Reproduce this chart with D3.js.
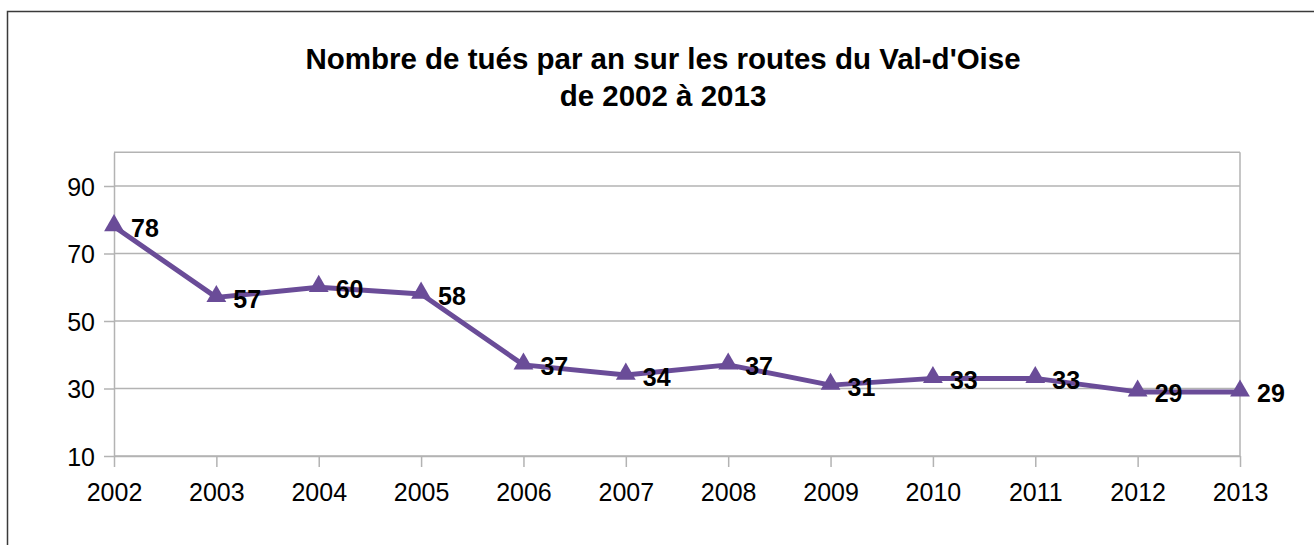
<!DOCTYPE html>
<html>
<head>
<meta charset="utf-8">
<script src="https://cdn.jsdelivr.net/npm/d3@7"></script>
<style>
  body { margin: 0; background: #fff; }
  svg { display: block; font-family: "Liberation Sans", Arial, sans-serif; }
  .grid line { stroke: #b3b3b3; stroke-width: 1.5; }
  .axis path, .axis line { stroke: #b3b3b3; stroke-width: 1.5; }
  .axis text { font-size: 25px; fill: #000; font-family: "Liberation Sans", Arial, sans-serif; }
  .title { font-size: 29.5px; font-weight: bold; }
  .label { font-size: 25px; font-weight: bold; }
</style>
</head>
<body>
<div class="container"></div>
<script>
var years = ['2002', '2003', '2004', '2005', '2006', '2007', '2008', '2009', '2010', '2011', '2012', '2013'];
var tues = [78, 57, 60, 58, 37, 34, 37, 31, 33, 33, 29, 29];
var yTicks = [10, 30, 50, 70, 90];
var titleLines = ["Nombre de tués par an sur les routes du Val-d'Oise", 'de 2002 à 2013'];

var WIDTH = 1314, HEIGHT = 545;
var plot = {left: 114, right: 1240, top: 152.25, bottom: 456};
var purple = '#6a4c98';

var translate = (x, y) => `translate(${ x },${ y })`;

var svg = d3.select('.container').append('svg')
    .attr('width', WIDTH)
    .attr('height', HEIGHT);

// outer frame
svg.append('rect')
    .attr('x', 7.5).attr('y', 11.5)
    .attr('width', WIDTH).attr('height', HEIGHT)
    .attr('fill', 'none')
    .attr('stroke', '#3a3a3a')
    .attr('stroke-width', 1.5);

var title = svg.append('text')
    .classed('title', true)
    .attr('text-anchor', 'middle');
titleLines.forEach((t, i) => {
    title.append('tspan')
        .attr('x', 663)
        .attr('y', 69 + i * 37)
        .text(t);
});

var xScale = d3.scalePoint()
    .domain(years)
    .range([plot.left, plot.right]);

var yScale = d3.scaleLinear()
    .domain([10, 100])
    .range([plot.bottom, plot.top]);

// grid
svg.append('g')
    .classed('grid', true)
    .selectAll('line')
    .data(yTicks.concat([100]))
    .enter().append('line')
    .attr('x1', plot.left).attr('x2', plot.right)
    .attr('y1', d => yScale(d)).attr('y2', d => yScale(d));

// right frame line of plot area
svg.append('line')
    .attr('x1', plot.right).attr('x2', plot.right)
    .attr('y1', plot.top).attr('y2', plot.bottom)
    .attr('stroke', '#b3b3b3').attr('stroke-width', 1.5);

var xAxis = d3.axisBottom(xScale).tickSize(11).tickPadding(16).tickSizeOuter(0);
var yAxis = d3.axisLeft(yScale).tickValues(yTicks).tickSize(10).tickPadding(9).tickSizeOuter(0);

svg.append('g')
    .classed('axis', true)
    .attr('transform', translate(0, plot.bottom))
    .call(xAxis);

svg.append('g')
    .classed('axis', true)
    .attr('transform', translate(plot.left, 0))
    .call(yAxis)
    .call(g => g.selectAll('text').attr('dy', '0.36em'));

var data = years.map((y, i) => ({year: y, value: tues[i]}));

var line = d3.line()
    .x(d => xScale(d.year))
    .y(d => yScale(d.value));

svg.append('path')
    .attr('d', line(data))
    .attr('fill', 'none')
    .attr('stroke', purple)
    .attr('stroke-width', 5)
    .attr('stroke-linejoin', 'round');

var tri = d3.symbol().type(d3.symbolTriangle).size(170);

svg.selectAll('.marker')
    .data(data)
    .enter().append('path')
    .classed('marker', true)
    .attr('d', tri)
    .attr('fill', purple)
    .attr('transform', d => translate(xScale(d.year), yScale(d.value) - 1));

svg.selectAll('.label')
    .data(data)
    .enter().append('text')
    .classed('label', true)
    .attr('x', d => xScale(d.year) + 17)
    .attr('y', d => yScale(d.value) + 10.5)
    .text(d => d.value);
</script>
</body>
</html>
